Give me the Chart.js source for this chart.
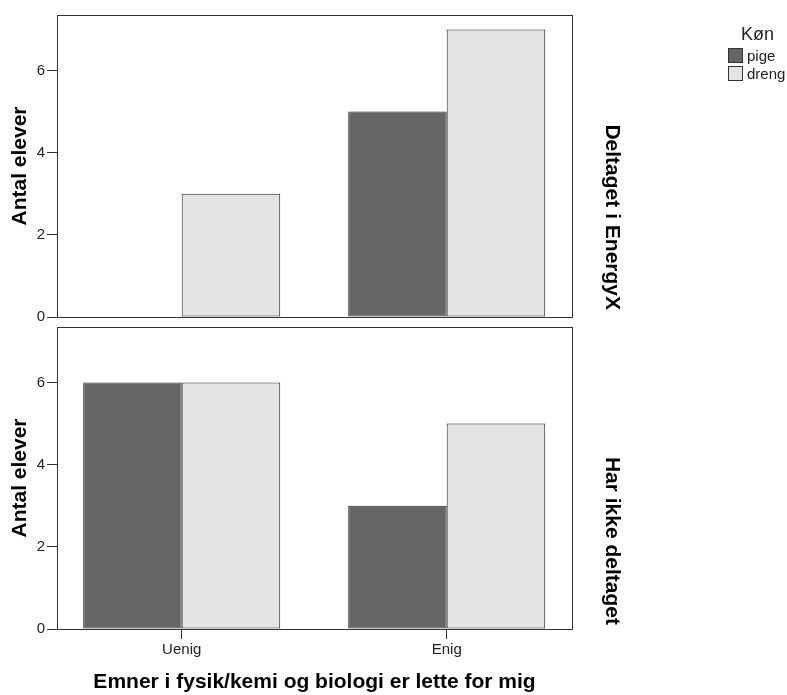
<!DOCTYPE html>
<html>
<head>
<meta charset="utf-8">
<script src="https://cdn.jsdelivr.net/npm/chart.js@4/dist/chart.umd.min.js"></script>
<style>
  body { margin: 0; background: #fff; }
  #wrap { position: relative; width: 787px; height: 695px; font-family: "Liberation Sans", Arial, sans-serif; }
  canvas { position: absolute; left: 0; }
  #top { top: 0; }
  #bottom { top: 305px; }
  #legend { position: absolute; left: 728px; top: 22px; width: 59px; color: #222; }
  #legend .title { text-align: center; font-size: 18px; line-height: 24px; margin-left: 0px; }
  #legend .item { display: flex; align-items: center; height: 18.3px; font-size: 15px; }
  #legend .box { width: 13px; height: 13px; border: 1px solid #333; margin-right: 4px; }
</style>
</head>
<body>
<div id="wrap">
  <canvas id="top" width="787" height="329"></canvas>
  <canvas id="bottom" width="787" height="390"></canvas>
  <div id="legend"></div>
</div>
<script>
// categories on the x axis, one panel per group
const categories = ['Uenig', 'Enig'];
const genders = ['pige', 'dreng'];
const panels = ['Deltaget i EnergyX', 'Har ikke deltaget'];

// number of pupils per category (Uenig, Enig)
const deltagetPige = [0, 5];
const deltagetDreng = [3, 7];
const ikkePige = [6, 3];
const ikkeDreng = [6, 5];

// tick labels of the count axis
const yTicks = [0, 2, 4, 6];

// colours for pige / dreng
const colors = ['#666666', '#e3e3e3'];
const FONT = '"Liberation Sans", Arial, sans-serif';

// draws the frame round the plot area and the rotated panel title on the right
const panelFrame = {
    id: 'panelFrame',
    afterDraw(chart, args, opts) {
        const { ctx, chartArea: a } = chart;
        ctx.save();
        ctx.strokeStyle = '#333';
        ctx.lineWidth = 1;
        ctx.strokeRect(a.left + 0.5, a.top + 0.5, a.right - a.left, a.bottom - a.top);
        // panel title, reading top to bottom
        ctx.translate(612, a.bottom - opts.endGap);
        ctx.rotate(Math.PI / 2);
        ctx.font = 'bold 21px ' + FONT;
        ctx.fillStyle = '#000';
        ctx.textAlign = 'right';
        ctx.textBaseline = 'middle';
        ctx.fillText(opts.text, 0, 0);
        ctx.restore();
    }
};

// build one panel (top or bottom)
function makePanel(id, pige, dreng, title, isBottom, endGap) {
    const toPoints = vals => vals.map((v, i) => ({ x: i, y: v }));
    return new Chart(document.getElementById(id), {
        type: 'bar',
        data: {
            datasets: [
                { label: genders[0], data: toPoints(pige), backgroundColor: colors[0] },
                { label: genders[1], data: toPoints(dreng), backgroundColor: colors[1] }
            ]
        },
        plugins: [panelFrame],
        options: {
            responsive: false,
            animation: false,
            layout: { padding: { top: isBottom ? 22 : 15, right: 215, bottom: isBottom ? 0 : 12, left: 0 } },
            datasets: {
                bar: {
                    borderColor: '#2a2a2a',
                    borderWidth: 1,
                    borderSkipped: false,
                    categoryPercentage: 0.7434,
                    barPercentage: 1
                }
            },
            plugins: {
                legend: { display: false },
                tooltip: { enabled: false },
                panelFrame: { text: title, endGap: endGap }
            },
            scales: {
                x: {
                    type: 'linear',
                    display: isBottom,
                    offset: false,
                    min: -0.4706,
                    max: 1.4728,
                    afterBuildTicks: axis => { axis.ticks = categories.map((c, i) => ({ value: i })); },
                    // only the bottom panel carries the x axis
                    afterFit: axis => { axis.height = isBottom ? 66 : 0; },
                    grid: { display: true, offset: false, drawOnChartArea: false, drawTicks: true, tickLength: 10, color: '#333' },
                    border: { display: false },
                    ticks: {
                        padding: 2,
                        color: '#222',
                        font: { family: FONT, size: 15 },
                        callback: v => categories[v]
                    },
                    title: {
                        display: true,
                        text: 'Emner i fysik/kemi og biologi er lette for mig',
                        color: '#000',
                        font: { family: FONT, size: 21, weight: 'bold' },
                        padding: { top: 0, bottom: 0 }
                    }
                },
                y: {
                    min: 0,
                    max: 7.35,
                    afterBuildTicks: axis => { axis.ticks = yTicks.map(v => ({ value: v })); },
                    afterFit: axis => { axis.width = 57; },
                    grid: { display: true, drawOnChartArea: false, drawTicks: true, tickLength: 10, color: '#333' },
                    border: { display: false },
                    ticks: { padding: 2, color: '#222', font: { family: FONT, size: 15 } },
                    title: {
                        display: true,
                        text: 'Antal elever',
                        color: '#000',
                        font: { family: FONT, size: 21, weight: 'bold' },
                        padding: { top: 8, bottom: 0 }
                    }
                }
            }
        }
    });
}

const topChart = makePanel('top', deltagetPige, deltagetDreng, panels[0], false, 7);
const bottomChart = makePanel('bottom', ikkePige, ikkeDreng, panels[1], true, 4);

// legend for Køn
const legend = document.getElementById('legend');
legend.innerHTML = '<div class="title">Køn</div>' + genders.map((g, i) =>
    `<div class="item"><span class="box" style="background:${colors[i]}"></span>${g}</div>`
).join('');
</script>
</body>
</html>
